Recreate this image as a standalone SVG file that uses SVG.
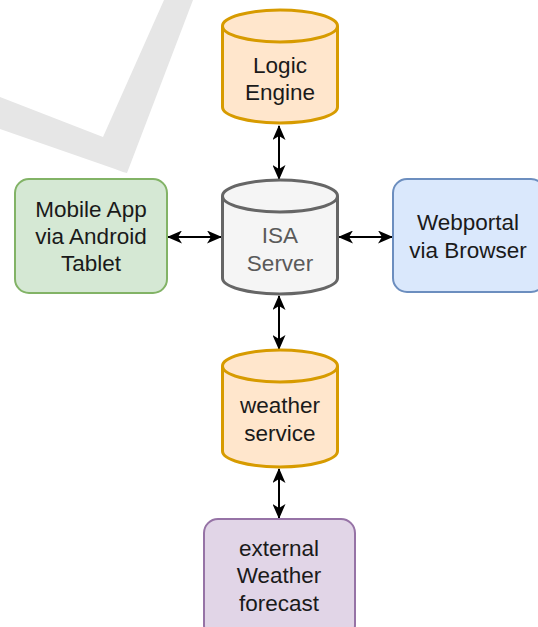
<svg xmlns="http://www.w3.org/2000/svg" width="538" height="627" viewBox="0 0 538 627">
  <style>
    .lbl { font-family: "Liberation Sans", Arial, sans-serif; font-size: 22.5px; text-anchor: middle; fill: #1a1a1a; }
    .orange { fill: #ffe6cc; stroke: #d79b00; stroke-width: 3; }
    .gray { fill: #f5f5f5; stroke: #666666; stroke-width: 3; }
    .green { fill: #d5e8d4; stroke: #82b366; stroke-width: 2; }
    .blue { fill: #dae8fc; stroke: #6c8ebf; stroke-width: 2; }
    .purple { fill: #e1d5e7; stroke: #9673a6; stroke-width: 2; }
    .conn { stroke: #000000; stroke-width: 2; fill: none; marker-start: url(#head); marker-end: url(#head); }
  </style>
  <defs>
    <marker id="head" viewBox="0 0 15 13" refX="14" refY="6.5" markerWidth="15" markerHeight="13" markerUnits="userSpaceOnUse" orient="auto-start-reverse">
      <path d="M0,0 L15,6.5 L0,13 L4,6.5 Z" fill="#000000"/>
    </marker>
  </defs>

  <rect width="538" height="627" fill="#ffffff"/>

  <!-- faint check mark in the background -->
  <path d="M0,97 L103,137 L164,0 L193,0 L127,173 Q122,172 115,169 L0,129 Z" fill="#e6e6e6"/>

  <g id="connectors">
    <line class="conn" x1="279" y1="126" x2="279" y2="179"/>
    <line class="conn" x1="168" y1="237" x2="221" y2="237"/>
    <line class="conn" x1="339" y1="237" x2="392" y2="237"/>
    <line class="conn" x1="279" y1="296" x2="279" y2="349"/>
    <line class="conn" x1="279" y1="469" x2="279" y2="518"/>
  </g>

  <g id="logic-engine">
    <path class="orange" d="M222.5,26 A57.5,16 0 0 1 337.5,26 V107 A57.5,16 0 0 1 222.5,107 Z"/>
    <path class="orange" fill="none" d="M222.5,26 A57.5,16 0 0 0 337.5,26"/>
    <text class="lbl" x="280" y="73">Logic</text>
    <text class="lbl" x="280" y="100">Engine</text>
  </g>

  <g id="isa-server">
    <path class="gray" d="M222.5,196 A57.5,16 0 0 1 337.5,196 V278 A57.5,16 0 0 1 222.5,278 Z"/>
    <path class="gray" fill="none" d="M222.5,196 A57.5,16 0 0 0 337.5,196"/>
    <text class="lbl" x="280" y="243" style="fill:#5a5a5a">ISA</text>
    <text class="lbl" x="280" y="271" style="fill:#5a5a5a">Server</text>
  </g>

  <g id="mobile-app">
    <rect class="green" x="15" y="179" width="152" height="114" rx="14"/>
    <text class="lbl" x="91" y="217">Mobile App</text>
    <text class="lbl" x="91" y="244">via Android</text>
    <text class="lbl" x="91" y="271">Tablet</text>
  </g>

  <g id="webportal">
    <rect class="blue" x="393" y="179" width="152" height="113" rx="14"/>
    <text class="lbl" x="468" y="230">Webportal</text>
    <text class="lbl" x="468" y="258">via Browser</text>
  </g>

  <g id="weather-service">
    <path class="orange" d="M222.5,366 A57.5,16 0 0 1 337.5,366 V451 A57.5,16 0 0 1 222.5,451 Z"/>
    <path class="orange" fill="none" d="M222.5,366 A57.5,16 0 0 0 337.5,366"/>
    <text class="lbl" x="280" y="413">weather</text>
    <text class="lbl" x="280" y="441">service</text>
  </g>

  <g id="external-forecast">
    <rect class="purple" x="204" y="519" width="151" height="120" rx="14"/>
    <text class="lbl" x="279" y="556">external</text>
    <text class="lbl" x="279" y="583">Weather</text>
    <text class="lbl" x="279" y="611">forecast</text>
  </g>
</svg>
